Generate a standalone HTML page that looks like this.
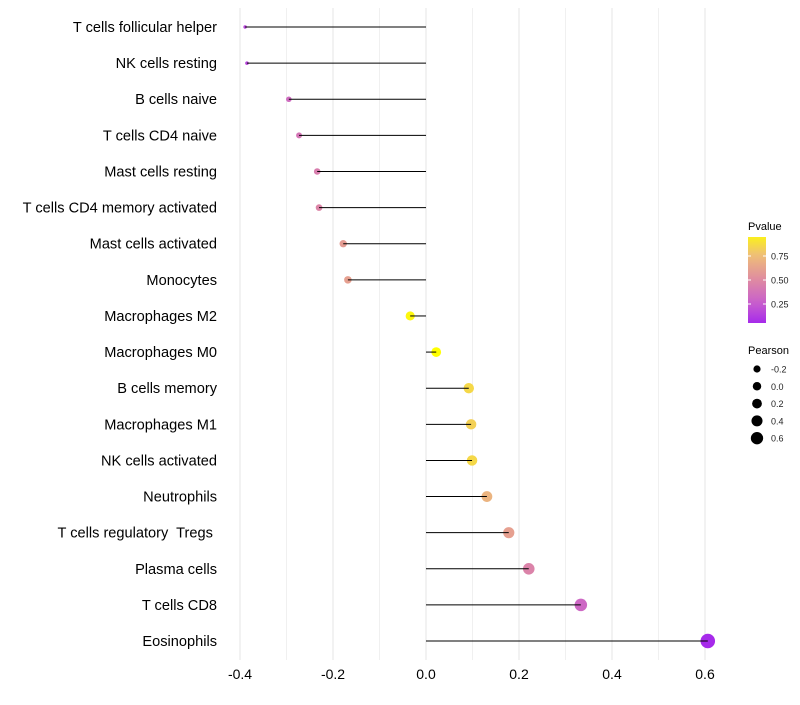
<!DOCTYPE html>
<html><head><meta charset="utf-8"><style>
body{margin:0;background:#fff;}
svg text{font-family:"Liberation Sans",sans-serif;white-space:pre;}
</style></head><body>
<svg id="chart" width="800" height="700"></svg>
<script>
const categories=["T cells follicular helper","NK cells resting","B cells naive","T cells CD4 naive","Mast cells resting","T cells CD4 memory activated","Mast cells activated","Monocytes","Macrophages M2","Macrophages M0","B cells memory","Macrophages M1","NK cells activated","Neutrophils","T cells regulatory  Tregs ","Plasma cells","T cells CD8","Eosinophils"];
const pearson=[-0.389,-0.385,-0.295,-0.273,-0.234,-0.23,-0.178,-0.168,-0.034,0.022,0.092,0.097,0.099,0.131,0.178,0.221,0.333,0.606];
const pvalues=[0.15,0.15,0.32,0.38,0.42,0.46,0.58,0.6,0.97,1.0,0.85,0.82,0.85,0.7,0.6,0.45,0.3,0.04];
const xTicks=[-0.4,-0.2,0,0.2,0.4,0.6];
const xTickLabels=["-0.4","-0.2","0.0","0.2","0.4","0.6"];
const minorTicks=[-0.3,-0.1,0.1,0.3,0.5];
const legendPearson=[-0.2,0,0.2,0.4,0.6];
const legendPvalTicks=[0.75,0.5,0.25];

const NS="http://www.w3.org/2000/svg";
const svg=document.getElementById('chart');
function mk(tag,attrs,parent){const e=document.createElementNS(NS,tag);for(const k in attrs)e.setAttribute(k,attrs[k]);(parent||svg).appendChild(e);return e;}
const x=v=>426+v*465;
const y=i=>27+i*36.12;
const r=v=>Math.sqrt(Math.max(1,3+50*(v+0.39)));
const stops=[[0,[160,32,240]],[0.25,[200,95,205]],[0.5,[224,140,160]],[0.75,[238,190,120]],[1,[255,255,0]]];
function col(p){p=Math.max(0,Math.min(1,p));for(let i=1;i<stops.length;i++){if(p<=stops[i][0]){const a=stops[i-1],b=stops[i];const t=(p-a[0])/(b[0]-a[0]);const c=a[1].map((v,j)=>Math.round(v+(b[1][j]-v)*t));return `rgb(${c})`;}}return 'rgb(255,255,0)';}

minorTicks.forEach(v=>{const l=mk('line',{x1:x(v),x2:x(v),y1:8,y2:660,stroke:'#f0f0f0','stroke-width':1});
});
xTicks.forEach((v,i)=>{const l=mk('line',{x1:x(v),x2:x(v),y1:8,y2:660,stroke:'#e6e6e6','stroke-width':1});

const t=mk('text',{x:x(v),y:679,'text-anchor':'middle','font-size':14,fill:'#000'});t.textContent=xTickLabels[i];
});

categories.forEach((c,i)=>{
 const t=mk('text',{x:217,y:y(i)+5,'text-anchor':'end','font-size':14.6,fill:'#000'});t.textContent=c;
 
 const d=mk('circle',{cx:x(pearson[i]),cy:y(i),r:r(pearson[i]),fill:col(pvalues[i])});
 
 const l=mk('line',{x1:x(0),x2:x(pearson[i]),y1:y(i),y2:y(i),stroke:'#000','stroke-width':1});
 
});

const defs=mk('defs',{});
const g=mk('linearGradient',{id:'pg',x1:0,y1:1,x2:0,y2:0},defs);
for(let k=0;k<=10;k++){const p=0.04+k*0.09;mk('stop',{offset:k/10,'stop-color':col(p)},g);}
const lt=mk('text',{x:748,y:230,'font-size':11,fill:'#000'});lt.textContent='Pvalue';

const bar=mk('rect',{x:748,y:237,width:18,height:86,fill:'url(#pg)'});

const py=p=>328-p*96;
legendPvalTicks.forEach(p=>{
 mk('line',{x1:748,x2:751,y1:py(p),y2:py(p),stroke:'#fff'});mk('line',{x1:763,x2:766,y1:py(p),y2:py(p),stroke:'#fff'});
 const t=mk('text',{x:771,y:py(p)+3.5,'font-size':9,fill:'#222'});t.textContent=p.toFixed(2);
 });
const pt=mk('text',{x:748,y:354,'font-size':11,fill:'#000'});pt.textContent='Pearson';

legendPearson.forEach((v,i)=>{const cy=369+i*17.3;
 const c=mk('circle',{cx:757,cy:cy,r:3.6+(v+0.2)*3.2,fill:'#000'});
 
 const t=mk('text',{x:771,y:cy+3.5,'font-size':9,fill:'#222'});t.textContent=v.toFixed(1);
 });
</script>
</body></html>
